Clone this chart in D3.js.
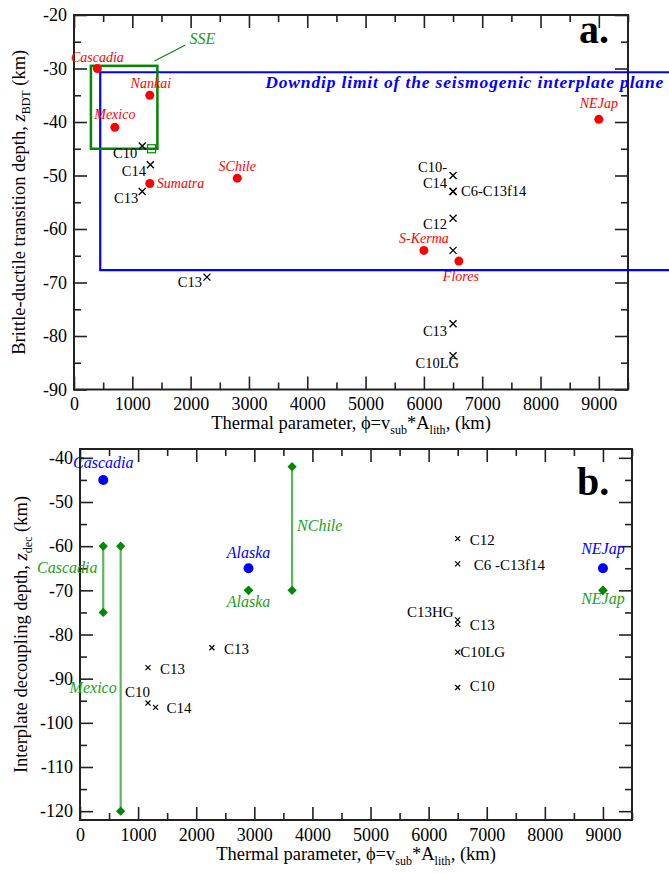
<!DOCTYPE html>
<html>
<head>
<meta charset="utf-8">
<script src="https://cdn.jsdelivr.net/npm/d3@7"></script>
<style>
  body { margin: 0; background: #fff; }
  text { font-family: "Liberation Serif", "Times New Roman", serif; }
</style>
</head>
<body>
<div id="chart"></div>
<script>
// ---------- panel a: brittle-ductile transition depth ----------
var obsNamesA = ["Cascadia", "Nankai", "Mexico", "Sumatra", "SChile", "NEJap", "S-Kerma", "Flores"];
var obsPhiA   = [400, 1300, 700, 1300, 2800, 9000, 6000, 6600];
var obsZA     = [-30, -35, -41, -51.5, -50.5, -39.5, -64, -66];

var modNamesA = ["C10", "C14", "C13", "C13", "C10-", "C14", "C6-C13f14", "C12", "", "C13", "C10LG"];
var modPhiA   = [1170, 1310, 1170, 2280, 6500, 6500, 6500, 6500, 6500, 6500, 6500];
var modZA     = [-44.5, -48, -53, -69, -50, -53, -53, -58, -64, -77.7, -83.7];

var ssePhi = [290, 1430];       // SSE box
var sseZ   = [-29.5, -45];
var sseMarkPhi = [1330];        // open square
var sseMarkZ   = [-45];
var downdipPhi = [450];         // seismogenic plane box (left edge)
var downdipZ   = [-30.7, -67.7];

// ---------- panel b: interplate decoupling depth ----------
var decNames = ["Cascadia", "Alaska", "NEJap"];
var decPhi   = [400, 2900, 9000];
var decZ     = [-45, -65, -65];

var rangeNames  = ["Cascadia", "Mexico", "NChile", "Alaska", "NEJap"];
var rangePhi    = [400, 700, 3650, 2900, 9000];
var rangeTop    = [-60, -60, -42, -70, -70];
var rangeBottom = [-75, -120, -70, -70, -70];

var modNamesB = ["C13", "C13", "C10", "C14", "C12", "C6 -C13f14", "C13HG", "C13", "C10LG", "C10"];
var modPhiB   = [1170, 2270, 1170, 1300, 6500, 6500, 6500, 6500, 6500, 6500];
var modZB     = [-87.5, -83, -95.5, -96.5, -58.3, -64, -76.7, -77.7, -84, -92];

// tick values
var xMajor = d3.range(0, 9001, 1000);
var xMinor = d3.range(500, 9501, 1000);
var yMajorA = d3.range(-90, -19, 10);
var yMinorA = d3.range(-85, -20, 10);
var yMajorB = d3.range(-120, -39, 10);
var yMinorB = d3.range(-115, -39, 10);

// label placement (px offsets from the mark: dx, dy, anchor)
var obsLabA = [[0,-7,"middle"],[1,-7.5,"middle"],[0,-8,"middle"],[7,4,"start"],[0,-7.5,"middle"],[0,-11,"middle"],[0,-7,"middle"],[2,20,"middle"]];
var modLabA = [[-5,12,"end"],[-4.5,11,"end"],[-4,11,"end"],[-5,10,"end"],[-6,-4,"end"],[-6,-4,"end"],[8,4,"start"],[-6,11,"end"],[0,0,"end"],[-6,12,"end"],[6,12,"end"]];
var decLab = [[0,-11.5],[0,-10.5],[0,-14]];
var rangeLab = [[-36,27,"middle"],[-4,147,"end"],[5,64,"start"],[0,16.5,"middle"],[0,14,"middle"]];
var modLabB = [[12,6,"start"],[12,6.5,"start"],[2,-5.5,"end"],[11,6,"start"],[12,6,"start"],[16,6,"start"],[-4,-2.5,"end"],[12,6,"start"],[2.5,5,"start"],[12,3.5,"start"]];

var svg = d3.select("#chart")
  .append("svg")
    .attr("width", 669)
    .attr("height", 873);

var xA = d3.scaleLinear().domain([0, 9500]).range([74, 628]);
var yA = d3.scaleLinear().domain([-90, -20]).range([389.5, 15]);
var xB = d3.scaleLinear().domain([0, 9500]).range([80, 632]);
var yB = d3.scaleLinear().domain([-122, -38]).range([820, 449]);

var axisColor = "#222";

function drawAxes(x, y, yMajor, yMinor) {
  var g = svg.append("g");
  var x0 = x.range()[0], x1 = x.range()[1], y0 = y.range()[0], y1 = y.range()[1];
  function clean(sel) {
    sel.select(".domain").remove();
    sel.selectAll("line").attr("stroke", axisColor).attr("stroke-width", 1.6);
    sel.selectAll("text").attr("font-size", 18).attr("fill", "#000");
  }
  // bottom
  g.append("g").attr("transform", "translate(0," + y0 + ")")
    .call(d3.axisBottom(x).tickValues(xMajor).tickSize(-13).tickPadding(8).tickFormat(d3.format("d"))).call(clean);
  g.append("g").attr("transform", "translate(0," + y0 + ")")
    .call(d3.axisBottom(x).tickValues(xMinor).tickSize(-7).tickFormat("")).call(clean);
  // top
  g.append("g").attr("transform", "translate(0," + y1 + ")")
    .call(d3.axisTop(x).tickValues(xMajor).tickSize(-13).tickFormat("")).call(clean);
  g.append("g").attr("transform", "translate(0," + y1 + ")")
    .call(d3.axisTop(x).tickValues(xMinor).tickSize(-7).tickFormat("")).call(clean);
  // left
  g.append("g").attr("transform", "translate(" + x0 + ",0)")
    .call(d3.axisLeft(y).tickValues(yMajor).tickSize(-13).tickPadding(7).tickFormat(function(d) { return String(d); })).call(clean);
  g.append("g").attr("transform", "translate(" + x0 + ",0)")
    .call(d3.axisLeft(y).tickValues(yMinor).tickSize(-7).tickFormat("")).call(clean);
  // right
  g.append("g").attr("transform", "translate(" + x1 + ",0)")
    .call(d3.axisRight(y).tickValues(yMajor).tickSize(-13).tickFormat("")).call(clean);
  g.append("g").attr("transform", "translate(" + x1 + ",0)")
    .call(d3.axisRight(y).tickValues(yMinor).tickSize(-7).tickFormat("")).call(clean);
  // frame
  g.append("rect")
    .attr("x", x0).attr("y", y1)
    .attr("width", x1 - x0).attr("height", y0 - y1)
    .attr("fill", "none").attr("stroke", axisColor).attr("stroke-width", 2);
}

function xTitle(x, baseline) {
  var t = svg.append("text")
    .attr("x", (x.range()[0] + x.range()[1]) / 2)
    .attr("y", baseline)
    .attr("text-anchor", "middle")
    .attr("font-size", 18.5);
  t.append("tspan").text("Thermal parameter, \u03d5=v");
  t.append("tspan").attr("font-size", 12).attr("dy", 5).text("sub");
  t.append("tspan").attr("dy", -5).text("*A");
  t.append("tspan").attr("font-size", 12).attr("dy", 5).text("lith");
  t.append("tspan").attr("dy", -5).text(", (km)");
}

function yTitle(y, xpos, main, sub) {
  var cy = (y.range()[0] + y.range()[1]) / 2;
  var t = svg.append("text")
    .attr("transform", "translate(" + xpos + "," + cy + ") rotate(-90)")
    .attr("text-anchor", "middle")
    .attr("font-size", 18.5);
  t.append("tspan").text(main);
  t.append("tspan").attr("font-style", "italic").text("z");
  t.append("tspan").attr("font-size", 12).attr("dy", 5).text(sub);
  t.append("tspan").attr("dy", -5).text(" (km)");
}

function cross(g, px, py, s, w) {
  g.append("path")
    .attr("d", "M" + (px - s) + "," + (py - s) + "L" + (px + s) + "," + (py + s) +
               "M" + (px - s) + "," + (py + s) + "L" + (px + s) + "," + (py - s))
    .attr("stroke", "#000").attr("stroke-width", w).attr("fill", "none");
}

// ================= panel a =================
drawAxes(xA, yA, yMajorA, yMinorA);
xTitle(xA, 429);
yTitle(yA, 25, "Brittle-ductile transition depth, ", "BDT");

// downdip limit box (runs off the right edge of the plot)
svg.append("path")
  .attr("d", "M669," + yA(downdipZ[0]) + "H" + xA(downdipPhi[0]) + "V" + yA(downdipZ[1]) + "H669")
  .attr("fill", "none").attr("stroke", "#0000ff").attr("stroke-width", 2.2);
svg.append("text")
  .attr("x", xA(3280)).attr("y", yA(downdipZ[0]) + 15.7)
  .attr("font-size", 17.5).attr("font-weight", "bold").attr("font-style", "italic")
  .attr("fill", "#0000ff")
  .attr("textLength", 398).attr("lengthAdjust", "spacing")
  .text("Downdip limit of the seismogenic interplate plane");

// SSE box
svg.append("rect")
  .attr("x", xA(ssePhi[0])).attr("y", yA(sseZ[0]))
  .attr("width", xA(ssePhi[1]) - xA(ssePhi[0]))
  .attr("height", yA(sseZ[1]) - yA(sseZ[0]))
  .attr("fill", "none").attr("stroke", "#008800").attr("stroke-width", 2.5);
svg.append("rect")
  .attr("x", xA(sseMarkPhi[0]) - 4).attr("y", yA(sseMarkZ[0]) - 4)
  .attr("width", 8).attr("height", 8)
  .attr("fill", "none").attr("stroke", "#008800").attr("stroke-width", 1.2);
svg.append("line")
  .attr("x1", xA(1380)).attr("y1", yA(-28.6))
  .attr("x2", xA(1910)).attr("y2", yA(-25.6))
  .attr("stroke", "#008800").attr("stroke-width", 1.2);
svg.append("text")
  .attr("x", xA(1910) + 4).attr("y", yA(-25.6) - 1)
  .attr("font-size", 16).attr("font-style", "italic").attr("fill", "#1a9a1a")
  .text("SSE");

// observations (red)
var gObsA = svg.append("g");
obsNamesA.forEach(function(n, i) {
  var px = xA(obsPhiA[i]), py = yA(obsZA[i]);
  gObsA.append("circle").attr("cx", px).attr("cy", py).attr("r", 4.5).attr("fill", "#ff0000");
  gObsA.append("text")
    .attr("x", px + obsLabA[i][0]).attr("y", py + obsLabA[i][1])
    .attr("text-anchor", obsLabA[i][2])
    .attr("font-size", 14).attr("font-style", "italic").attr("fill", "#ff0000")
    .text(n);
});

// model results (black crosses)
var gModA = svg.append("g");
modNamesA.forEach(function(n, i) {
  var px = xA(modPhiA[i]), py = yA(modZA[i]);
  cross(gModA, px, py, 3.5, 1.3);
  if (n) gModA.append("text")
    .attr("x", px + modLabA[i][0]).attr("y", py + modLabA[i][1])
    .attr("text-anchor", modLabA[i][2])
    .attr("font-size", 14.5).attr("fill", "#000")
    .text(n);
});

svg.append("text")
  .attr("x", 579).attr("y", 43)
  .attr("font-size", 40).attr("font-weight", "bold")
  .text("a.");

// ================= panel b =================
drawAxes(xB, yB, yMajorB, yMinorB);
xTitle(xB, 860);
yTitle(yB, 27, "Interplate decoupling depth, ", "dec");

// green ranges
var gRange = svg.append("g");
rangeNames.forEach(function(n, i) {
  var px = xB(rangePhi[i]), pt = yB(rangeTop[i]), pb = yB(rangeBottom[i]);
  if (rangeTop[i] != rangeBottom[i]) {
    gRange.append("line")
      .attr("x1", px).attr("x2", px).attr("y1", pt).attr("y2", pb)
      .attr("stroke", "#5cb85c").attr("stroke-width", 2.2);
  }
  [pt, pb].forEach(function(py) {
    gRange.append("path")
      .attr("d", d3.symbol().type(d3.symbolDiamond2).size(55)())
      .attr("transform", "translate(" + px + "," + py + ")")
      .attr("fill", "#008800");
  });
  gRange.append("text")
    .attr("x", px + rangeLab[i][0]).attr("y", pt + rangeLab[i][1])
    .attr("text-anchor", rangeLab[i][2])
    .attr("font-size", 16).attr("font-style", "italic").attr("fill", "#22a022")
    .text(n);
});

// blue points
var gDec = svg.append("g");
decNames.forEach(function(n, i) {
  var px = xB(decPhi[i]), py = yB(decZ[i]);
  gDec.append("circle").attr("cx", px).attr("cy", py).attr("r", 5).attr("fill", "#0000ff");
  gDec.append("text")
    .attr("x", px + decLab[i][0]).attr("y", py + decLab[i][1])
    .attr("text-anchor", "middle")
    .attr("font-size", 16).attr("font-style", "italic").attr("fill", "#0000ff")
    .text(n);
});

// model results
var gModB = svg.append("g");
modNamesB.forEach(function(n, i) {
  var px = xB(modPhiB[i]), py = yB(modZB[i]);
  cross(gModB, px, py, 2.5, 1.2);
  gModB.append("text")
    .attr("x", px + modLabB[i][0]).attr("y", py + modLabB[i][1])
    .attr("text-anchor", modLabB[i][2])
    .attr("font-size", 15).attr("fill", "#000")
    .text(n);
});

svg.append("text")
  .attr("x", 577).attr("y", 495)
  .attr("font-size", 40).attr("font-weight", "bold")
  .text("b.");
</script>
</body>
</html>
